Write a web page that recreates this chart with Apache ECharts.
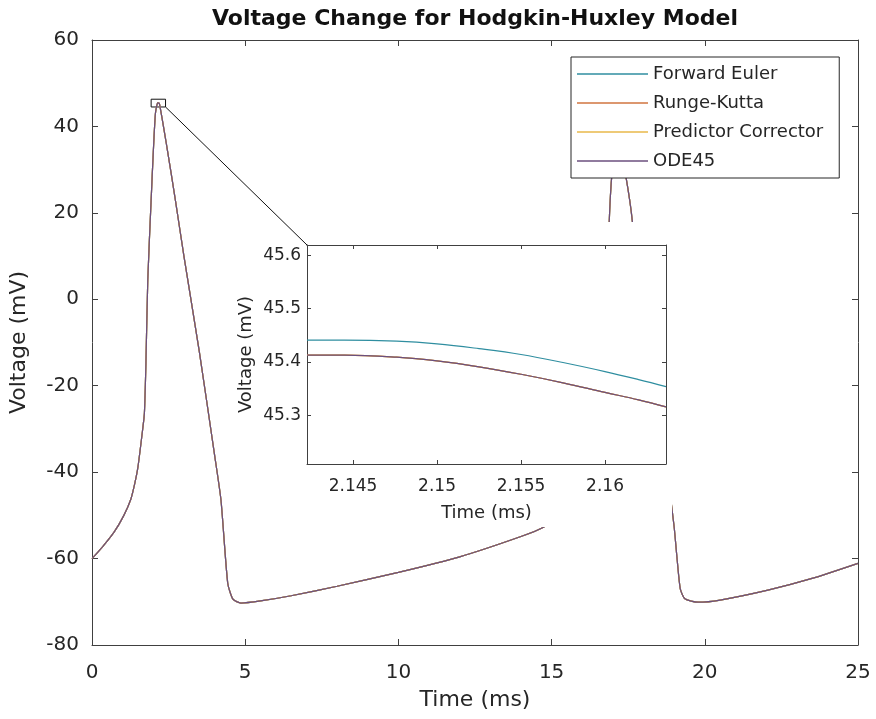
<!DOCTYPE html>
<html>
<head>
<meta charset="utf-8">
<script src="https://cdn.jsdelivr.net/npm/echarts@6/dist/echarts.min.js"></script>
<style>
  html, body { margin: 0; padding: 0; background: #fff; }
  #chart { width: 876px; height: 719px; }
</style>
</head>
<body>
<div id="chart"></div>
<script>
// method names (legend order)
const methods = ['Forward Euler', 'Runge-Kutta', 'Predictor Corrector', 'ODE45']
const colors = ['#2f8ea0', '#d0743f', '#e8b84a', '#6b4f7e']

// full run, all four methods overlap at this scale
const mainTime = [0, 0.33, 0.72, 1.04, 1.27, 1.4, 1.5, 1.65, 1.71, 1.76, 1.82, 1.93, 2.0, 2.07, 2.145, 2.2, 2.45, 2.72, 3.0, 3.5, 4.0, 4.21, 4.43, 4.6, 4.86,
  5.5, 6.5, 8, 10, 12, 14, 14.75, 15.5, 16, 16.4, 16.7, 16.9, 17.0, 17.15, 17.35, 17.59, 18.0, 18.6, 18.85, 19.0, 19.1, 19.2, 19.35, 19.78, 20.5, 22.06, 23.5, 25]
const mainVolt = [-60, -57.4, -53.9, -50, -46.2, -42.5, -38.8, -30.3, -26.4, -14.8, 4.4, 23, 34, 43, 45.44, 45.3, 35, 23, 10, -12, -36, -46.5, -65.7, -69.4, -70.3,
  -69.8, -68.6, -66.4, -63.2, -59.6, -54.9, -52.7, -48.5, -44, -36, -15, 21.2, 31.4, 38, 31.4, 20.8, -5, -30, -44, -52.7, -60.4, -67, -69.3, -70.1, -69.6, -67.3, -64.6, -61.1]

// zoomed view around the first peak
const insetTime = [2.14226, 2.1445, 2.1476, 2.15, 2.1525, 2.155, 2.1575, 2.16, 2.162, 2.16363]
const eulerInset = [45.441, 45.441, 45.439, 45.434, 45.425, 45.414, 45.399, 45.382, 45.367, 45.354]
const otherInset = [45.413, 45.413, 45.409, 45.402, 45.391, 45.377, 45.361, 45.343, 45.329, 45.316]

const insetX = [2.14226, 2.16363]
const insetY = [45.209, 45.619]
const insetXTicks = [2.145, 2.15, 2.155, 2.16]
const insetYTicks = [45.3, 45.4, 45.5, 45.6]

// little box drawn round the peak: [tmin, tmax, vmin, vmax]
const zoomBox = [1.93, 2.40, 44.5, 46.3]

const font = 'DejaVu Sans'
const ink = '#262626'
const axisCol = '#404040'

const zip = (a, b) => a.map((v, i) => [v, b[i]])

const myChart = echarts.init(document.getElementById('chart'))

const boxAxis = (extra) => Object.assign({
  axisLine: { show: true, onZero: false, lineStyle: { color: axisCol, width: 1 } },
  axisTick: { show: true, inside: true, length: 6, lineStyle: { color: axisCol } },
  splitLine: { show: false }
}, extra)

const mainSeries = methods.map((m, i) => ({
  name: m,
  type: 'line',
  xAxisIndex: 0,
  yAxisIndex: 0,
  symbol: 'none',
  smooth: 0.2,
  lineStyle: { width: 1.2, color: colors[i] },
  itemStyle: { color: colors[i] },
  data: zip(mainTime, mainVolt),
  markArea: i === 3 ? {
    silent: true,
    itemStyle: { color: 'transparent', borderColor: '#111', borderWidth: 1 },
    data: [[{ coord: [zoomBox[0], zoomBox[3]] }, { coord: [zoomBox[1], zoomBox[2]] }]]
  } : undefined
}))

const insetSeries = methods.map((m, i) => ({
  name: m,
  type: 'line',
  xAxisIndex: 2,
  yAxisIndex: 2,
  z: 7,
  symbol: 'none',
  smooth: 0.4,
  lineStyle: { width: 1.2, color: colors[i] },
  itemStyle: { color: colors[i] },
  data: zip(insetTime, i === 0 ? eulerInset : otherInset)
}))

const option = {
  backgroundColor: '#fff',
  animation: false,
  textStyle: { fontFamily: font },
  title: {
    text: 'Voltage Change for Hodgkin-Huxley Model',
    left: 475,
    textAlign: 'center',
    top: 8,
    padding: 0,
    textStyle: { fontFamily: font, fontSize: 22, fontWeight: 'bold', color: '#111' }
  },
  legend: {
    data: methods,
    orient: 'vertical',
    left: 571,
    top: 57,
    padding: [7, 16, 7, 6],
    icon: 'rect',
    itemWidth: 71,
    itemHeight: 1.5,
    itemGap: 9,
    itemTextGap: 7,
    backgroundColor: '#fff',
    borderColor: ink,
    borderWidth: 1,
    borderRadius: 0,
    selectedMode: false,
    textStyle: { fontFamily: font, fontSize: 18, color: ink, lineHeight: 20 }
  },
  grid: [
    { left: 91, right: 18, top: 40, bottom: 74 },
    { left: 307, right: 210, top: 245, bottom: 255, z: 6 }
  ],
  xAxis: [
    boxAxis({
      type: 'value', gridIndex: 0, position: 'bottom', min: 0, max: 25, interval: 5,
      name: 'Time (ms)', nameLocation: 'middle', nameGap: 44,
      nameTextStyle: { fontFamily: font, fontSize: 22, color: ink },
      axisLabel: { fontFamily: font, fontSize: 20, color: ink, margin: 18 }
    }),
    boxAxis({
      type: 'value', gridIndex: 0, position: 'top', min: 0, max: 25, interval: 5,
      axisLabel: { show: false }
    }),
    boxAxis({
      type: 'value', gridIndex: 1, position: 'bottom', min: insetX[0], max: insetX[1], z: 6,
      name: 'Time (ms)', nameLocation: 'middle', nameGap: 40,
      nameTextStyle: { fontFamily: font, fontSize: 18, color: ink },
      axisTick: { show: true, inside: true, length: 4, customValues: insetXTicks, lineStyle: { color: axisCol } },
      axisLabel: { fontFamily: font, fontSize: 17, color: ink, margin: 14, customValues: insetXTicks }
    }),
    boxAxis({
      type: 'value', gridIndex: 1, position: 'top', min: insetX[0], max: insetX[1], z: 6,
      axisTick: { show: true, inside: true, length: 4, customValues: insetXTicks, lineStyle: { color: axisCol } },
      axisLabel: { show: false }
    })
  ],
  yAxis: [
    boxAxis({
      type: 'value', gridIndex: 0, position: 'left', min: -80, max: 60, interval: 20,
      name: 'Voltage (mV)', nameLocation: 'middle', nameGap: 62,
      nameTextStyle: { fontFamily: font, fontSize: 22, color: ink },
      axisLabel: { fontFamily: font, fontSize: 20, color: ink, margin: 13 }
    }),
    boxAxis({
      type: 'value', gridIndex: 0, position: 'right', min: -80, max: 60, interval: 20,
      axisLabel: { show: false }
    }),
    boxAxis({
      type: 'value', gridIndex: 1, position: 'left', min: insetY[0], max: insetY[1], z: 6,
      name: 'Voltage (mV)', nameLocation: 'middle', nameGap: 52,
      nameTextStyle: { fontFamily: font, fontSize: 18, color: ink },
      axisTick: { show: true, inside: true, length: 4, customValues: insetYTicks, lineStyle: { color: axisCol } },
      axisLabel: { fontFamily: font, fontSize: 17, color: ink, margin: 6, customValues: insetYTicks }
    }),
    boxAxis({
      type: 'value', gridIndex: 1, position: 'right', min: insetY[0], max: insetY[1], z: 6,
      axisTick: { show: true, inside: true, length: 4, customValues: insetYTicks, lineStyle: { color: axisCol } },
      axisLabel: { show: false }
    })
  ],
  series: mainSeries.concat(insetSeries)
}

myChart.setOption(option)

// white panel behind the inset (hides the main trace), plus the pointer line
const from = myChart.convertToPixel({ gridIndex: 0 }, [zoomBox[1], zoomBox[2]])
const to = myChart.convertToPixel({ gridIndex: 1 }, [insetX[0], insetY[1]])

myChart.setOption({
  graphic: [
    {
      type: 'rect',
      z: 5,
      silent: true,
      shape: { x: 236, y: 222, width: 436, height: 305 },
      style: { fill: '#fff' }
    },
    {
      type: 'line',
      z: 8,
      silent: true,
      shape: { x1: from[0], y1: from[1], x2: to[0], y2: to[1] },
      style: { stroke: '#111', lineWidth: 1 }
    }
  ]
})
</script>
</body>
</html>
